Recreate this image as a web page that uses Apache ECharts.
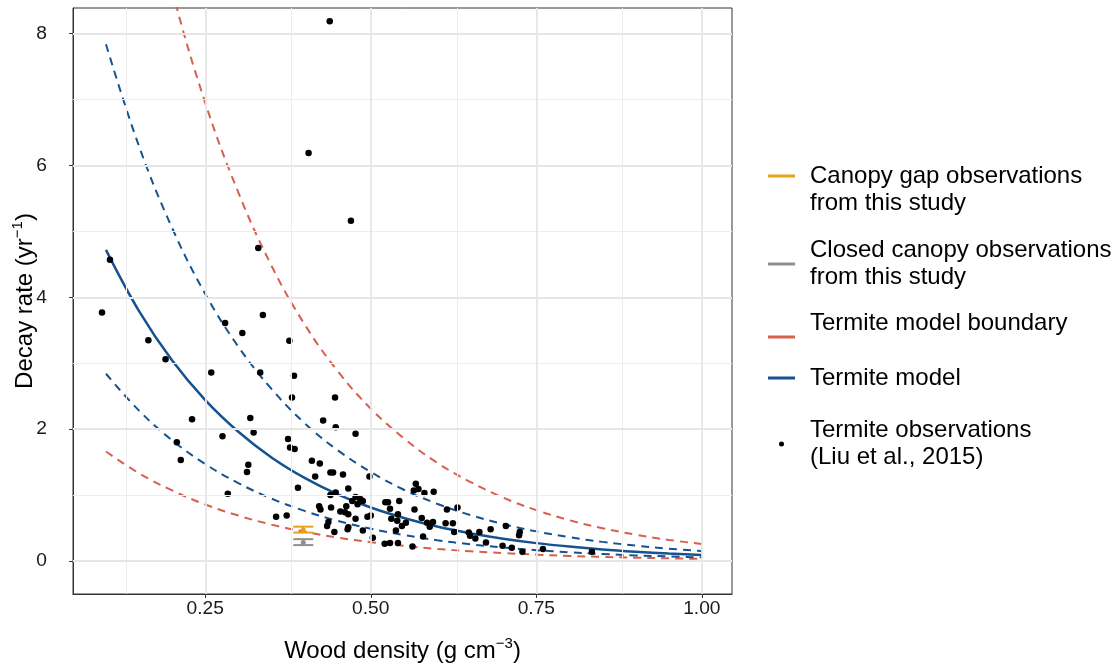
<!DOCTYPE html>
<html lang="en">
<head>
  <meta charset="UTF-8">
  <script src="https://cdn.jsdelivr.net/npm/echarts@6.0.0/dist/echarts.min.js"></script>
  <style>
    html, body { margin: 0; padding: 0; background: #fff; }
    #chart { width: 1118px; height: 664px; }
  </style>
</head>
<body>
  <div id="chart"></div>
  <script>
    // termite observations (Liu et al., 2015): [wood density, decay rate]
    const termiteObs = [
      [0.094, 3.77], [0.106, 4.57], [0.164, 3.35], [0.190, 3.06], [0.207, 1.80], [0.213, 1.53],
      [0.230, 2.15], [0.259, 2.86], [0.276, 1.89], [0.280, 3.61], [0.284, 1.02], [0.306, 3.46],
      [0.313, 1.35], [0.315, 1.46], [0.318, 2.17], [0.323, 1.95], [0.330, 4.75], [0.333, 2.86],
      [0.337, 3.73], [0.357, 0.67], [0.373, 0.69], [0.375, 1.85], [0.377, 3.34], [0.378, 1.72],
      [0.381, 2.48], [0.384, 2.81], [0.385, 1.70], [0.390, 1.11], [0.406, 6.19], [0.411, 1.52],
      [0.416, 1.28], [0.422, 0.83], [0.423, 1.48], [0.424, 0.78], [0.428, 2.13], [0.434, 0.53],
      [0.436, 0.59], [0.438, 8.19], [0.439, 1.34], [0.439, 1.00], [0.440, 0.81], [0.443, 1.34],
      [0.445, 0.44], [0.446, 2.48], [0.447, 2.03], [0.447, 1.04], [0.454, 0.75], [0.458, 1.31],
      [0.461, 0.74], [0.463, 0.83], [0.465, 0.48], [0.466, 0.51], [0.466, 0.71], [0.466, 1.10],
      [0.470, 5.16], [0.472, 0.91], [0.477, 1.93], [0.477, 0.97], [0.477, 0.64], [0.480, 0.86],
      [0.484, 0.94], [0.488, 0.91], [0.488, 0.46], [0.495, 0.67], [0.498, 1.28], [0.500, 0.69],
      [0.503, 0.35], [0.521, 0.26], [0.522, 0.89], [0.526, 0.89], [0.529, 0.27], [0.529, 0.79],
      [0.531, 0.64], [0.538, 0.46], [0.540, 0.61], [0.541, 0.71], [0.541, 0.27], [0.543, 0.91],
      [0.547, 0.53], [0.553, 0.58], [0.563, 0.22], [0.565, 1.07], [0.566, 0.78], [0.568, 1.17],
      [0.572, 1.09], [0.577, 0.65], [0.579, 0.37], [0.581, 1.03], [0.585, 0.58], [0.589, 0.52],
      [0.594, 0.59], [0.595, 1.05], [0.613, 0.57], [0.615, 0.78], [0.624, 0.57], [0.626, 0.44],
      [0.631, 0.81], [0.648, 0.43], [0.650, 0.38], [0.658, 0.34], [0.664, 0.44], [0.674, 0.28],
      [0.681, 0.48], [0.699, 0.23], [0.704, 0.53], [0.713, 0.20], [0.724, 0.39], [0.725, 0.44],
      [0.729, 0.14], [0.760, 0.18], [0.834, 0.14]
    ];

    // model curves
    const modelX     = [0.10, 0.15, 0.20, 0.25, 0.30, 0.35, 0.40, 0.45, 0.50, 0.55, 0.60, 0.65, 0.70, 0.75, 0.80, 0.85, 0.90, 0.95, 1.00];
    const modelFit   = [4.72, 3.79, 3.04, 2.44, 1.96, 1.57, 1.26, 1.01, 0.81, 0.652, 0.523, 0.420, 0.337, 0.270, 0.217, 0.174, 0.140, 0.112, 0.090];
    const ciUpper    = [7.84, 6.29, 5.05, 4.05, 3.25, 2.61, 2.09, 1.68, 1.35, 1.08, 0.868, 0.697, 0.559, 0.448, 0.360, 0.289, 0.232, 0.186, 0.149];
    const ciLower    = [2.84, 2.28, 1.83, 1.47, 1.18, 0.946, 0.759, 0.608, 0.488, 0.393, 0.315, 0.253, 0.203, 0.163, 0.131, 0.105, 0.084, 0.068, 0.054];
    const boundUpper = [13.45, 10.80, 8.66, 6.95, 5.59, 4.48, 3.59, 2.88, 2.31, 1.86, 1.49, 1.20, 0.960, 0.770, 0.618, 0.496, 0.399, 0.319, 0.257];
    const boundLower = [1.66, 1.33, 1.07, 0.856, 0.688, 0.551, 0.442, 0.354, 0.284, 0.229, 0.183, 0.147, 0.118, 0.095, 0.076, 0.061, 0.049, 0.039, 0.032];

    // this study: [wood density, mean, lower, upper]
    const gapObs    = [[0.398, 0.47, 0.43, 0.52]];
    const closedObs = [[0.398, 0.28, 0.24, 0.33]];

    const xTicks = [0.25, 0.50, 0.75, 1.00];
    const yTicks = [0, 2, 4, 6, 8];
    const xMinor = [0.125, 0.375, 0.625, 0.875];
    const yMinor = [1, 3, 5, 7];

    const font = "'Liberation Sans', Arial, sans-serif";
    const RED = '#D6604D', BLUE = '#16528F', GOLD = '#E5A11B', GREY = '#8F8F8F';
    const NB = '\u00a0';

    const pairs = ys => modelX.map((x, i) => [x, ys[i]]);

    function errorBar(params, api) {
      const x = api.value(0);
      const mid = api.coord([x, api.value(1)]);
      const lo = api.coord([x, api.value(2)]);
      const hi = api.coord([x, api.value(3)]);
      const hw = 10;
      const color = api.visual('color');
      const st = { stroke: color, lineWidth: 2 };
      return {
        type: 'group',
        children: [
          { type: 'line', shape: { x1: mid[0], y1: hi[1], x2: mid[0], y2: lo[1] }, style: st },
          { type: 'line', shape: { x1: mid[0] - hw, y1: hi[1], x2: mid[0] + hw, y2: hi[1] }, style: st },
          { type: 'line', shape: { x1: mid[0] - hw, y1: lo[1], x2: mid[0] + hw, y2: lo[1] }, style: st },
          { type: 'circle', shape: { cx: mid[0], cy: mid[1], r: 2.5 }, style: { fill: color } }
        ]
      };
    }

    // gridlines as markLines (ggplot major / minor)
    const major = { type: 'solid', width: 1.8, color: '#E6E6E6' };
    const minor = { type: 'solid', width: 1, color: '#EEEEEE' };
    const gridLines = []
      .concat(xMinor.map(v => ({ xAxis: v, lineStyle: minor })))
      .concat(yMinor.map(v => ({ yAxis: v, lineStyle: minor })))
      .concat(xTicks.map(v => ({ xAxis: v, lineStyle: major })))
      .concat(yTicks.map(v => ({ yAxis: v, lineStyle: major })));

    // one legend per key so each can sit where the reference puts it
    function legendAt(name, icon, left, top, h, fmt) {
      return {
        data: [{ name: name, icon: icon }],
        left: left, top: top, padding: 0,
        itemWidth: 27, itemHeight: h,
        selectedMode: false,
        formatter: fmt || (n => n),
        textStyle: { fontFamily: font, fontSize: 24, lineHeight: 27, color: '#000', padding: [0, 0, 0, 10] }
      };
    }

    const lineBase = (name, data, color, dashed, width, z) => ({
      name: name, type: 'line', data: data,
      symbol: 'none', smooth: 0.4, z: z,
      lineStyle: { color: color, width: width, type: dashed ? [8, 6] : 'solid' },
      itemStyle: { color: color }
    });

    const chart = echarts.init(document.getElementById('chart'));
    chart.setOption({
      animation: false,
      backgroundColor: '#fff',
      grid: {
        left: 73, right: 386, top: 8, bottom: 70, outerBoundsMode: 'none',
        show: true, borderColor: '#333', borderWidth: 1, backgroundColor: '#fff'
      },
      xAxis: {
        type: 'value', min: 0.0502, max: 1.0456,
        name: '{a|Wood density (g cm}{s|\u22123}{a|)}',
        nameLocation: 'middle', nameGap: 42,
        nameTextStyle: {
          rich: {
            a: { fontFamily: font, fontSize: 24, color: '#000', lineHeight: 30 },
            s: { fontFamily: font, fontSize: 15, color: '#000', lineHeight: 15, verticalAlign: 'top' }
          }
        },
        splitLine: { show: false },
        axisLine: { show: true, onZero: false, lineStyle: { color: '#333', width: 1.2 } },
        axisTick: { show: true, length: 4, customValues: xTicks, lineStyle: { color: '#333' } },
        axisLabel: { customValues: xTicks, margin: 5, fontFamily: font, fontSize: 19.2, color: '#1a1a1a', formatter: v => v.toFixed(2) }
      },
      yAxis: {
        type: 'value', min: -0.502, max: 8.39,
        name: '{a|Decay rate (yr}{s|\u22121}{a|)}',
        nameLocation: 'middle', nameGap: 33, nameRotate: 90, nameMoveOverlap: false,
        nameTextStyle: {
          rich: {
            a: { fontFamily: font, fontSize: 24, color: '#000', lineHeight: 30 },
            s: { fontFamily: font, fontSize: 15, color: '#000', lineHeight: 15, verticalAlign: 'top' }
          }
        },
        splitLine: { show: false },
        axisLine: { show: true, onZero: false, lineStyle: { color: '#333', width: 1 } },
        axisTick: { show: true, length: 4, customValues: yTicks, lineStyle: { color: '#333' } },
        axisLabel: { customValues: yTicks, margin: 26, fontFamily: font, fontSize: 19.2, color: '#1a1a1a' }
      },
      legend: [
        legendAt('Canopy gap observations\nfrom this study', 'rect', 768, 135.5, 3, n => NB + '\n' + n),
        legendAt('Closed canopy observations\nfrom this study', 'rect', 768, 237, 3),
        legendAt('Termite model boundary', 'rect', 768, 310, 3, n => n + '\n' + NB),
        legendAt('Termite model', 'rect', 768, 364.5, 3),
        legendAt('Termite observations\n(Liu et al., 2015)', 'circle', 779, 417, 5)
      ],
      series: [
        {
          name: 'grid', type: 'line', data: [], z: 0, silent: true,
          markLine: { silent: true, symbol: ['none', 'none'], label: { show: false }, data: gridLines, animation: false }
        },
        lineBase('Termite model boundary', pairs(boundUpper), RED, true, 2, 2),
        lineBase('Termite model boundary', pairs(boundLower), RED, true, 2, 2),
        lineBase('Termite model interval', pairs(ciUpper), BLUE, true, 2, 2),
        lineBase('Termite model interval', pairs(ciLower), BLUE, true, 2, 2),
        lineBase('Termite model', pairs(modelFit), BLUE, false, 2.5, 3),
        {
          name: 'Termite observations\n(Liu et al., 2015)', type: 'scatter', data: termiteObs,
          symbolSize: 6.5, itemStyle: { color: '#000', opacity: 1 }, z: 4
        },
        {
          name: 'Canopy gap observations\nfrom this study', type: 'custom', data: gapObs,
          renderItem: errorBar, encode: { x: 0, y: [1, 2, 3] }, itemStyle: { color: GOLD }, z: 5
        },
        {
          name: 'Closed canopy observations\nfrom this study', type: 'custom', data: closedObs,
          renderItem: errorBar, encode: { x: 0, y: [1, 2, 3] }, itemStyle: { color: GREY }, z: 5
        }
      ]
    });
  </script>
</body>
</html>
